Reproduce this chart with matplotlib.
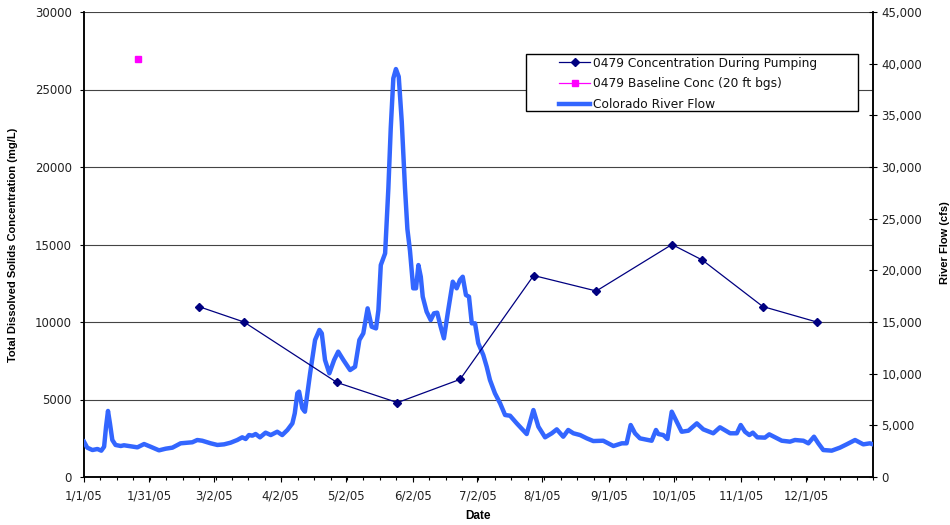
import matplotlib
matplotlib.use("Agg")
import matplotlib.pyplot as plt
import matplotlib.dates as mdates
import matplotlib.ticker as mticker
from matplotlib.patches import Rectangle
import pandas as pd

# TDS concentration in well 0479 during pumping (mg/L)
conc_dates = ["2005-02-23", "2005-03-16", "2005-04-28", "2005-05-26", "2005-06-24",
              "2005-07-28", "2005-08-26", "2005-09-30", "2005-10-14", "2005-11-11",
              "2005-12-06"]
conc_values = [11000, 10000, 6100, 4800, 6300, 13000, 12000, 15000, 14000, 11000, 10000]

# Baseline concentration sample (20 ft bgs)
baseline_dates = ["2005-01-26"]
baseline_values = [27000]

# Colorado River flow (cfs); days counted from 1/1/05
flow_days = [0, 1.5, 3.9, 6.2, 8.0, 9.3, 10.2, 11.1, 12.0, 13.1, 14.6, 17.0, 18.5,
             21.6, 24.7, 27.8, 30.8, 34.7, 37.8, 40.9, 44.7, 47.8, 50.1, 52.4, 54.7,
             58.6, 61.7, 64.8, 67.8, 70.9, 73.2, 74.8, 76.3, 77.9, 79.4, 81.4, 84.0,
             86.4, 89.4, 91.7, 94.1, 96.4, 97.5, 98.7, 99.5, 101.0, 102.2, 104.6,
             106.9, 108.9, 110.0, 111.5, 113.5, 115.7, 117.6, 120.0, 123.1, 125.4,
             127.4, 129.2, 131.2, 133.1, 135.1, 136.2, 137.3, 139.3, 140.8, 141.9,
             143.1, 144.3, 145.6, 147.0, 148.5, 149.6, 150.8, 152.3, 153.6, 154.7,
             155.8, 156.7, 158.5, 160.4, 161.9, 163.4, 165.0, 166.5, 168.5, 170.6,
             172.4, 173.9, 175.2, 176.7, 178.1, 179.4, 180.9, 182.4, 184.7, 186.3,
             187.8, 190.1, 192.5, 194.8, 197.1, 200.2, 204.8, 207.9, 210.2, 213.3,
             216.4, 218.7, 221.7, 224.0, 226.4, 229.5, 232.6, 235.6, 240.2, 244.9,
             248.8, 251.0, 252.9, 254.9, 257.2, 262.6, 264.6, 265.7, 268.0, 269.9,
             271.9, 274.2, 276.5, 279.6, 283.5, 286.5, 291.1, 294.2, 298.9, 302.0,
             303.8, 305.8, 307.8, 309.4, 311.5, 315.0, 317.0, 319.7, 322.8, 326.6,
             328.9, 332.8, 335.1, 337.7, 339.7, 342.0, 345.9, 349.7, 352.8, 356.7,
             360.5, 363.6, 365.0]
flow_cfs = [3420, 2840, 2610, 2710, 2550, 2930, 4870, 6390, 5190, 3580, 3100, 3000, 3070,
            2970, 2870, 3190, 2930, 2580, 2740, 2840, 3260, 3320, 3360, 3580, 3510,
            3260, 3100, 3160, 3320, 3580, 3840, 3680, 4060, 4000, 4160, 3840, 4290,
            4060, 4380, 4060, 4550, 5190, 6160, 8100, 8260, 6650, 6320, 10030,
            13260, 14230, 13900, 11320, 10030, 11320, 12130, 11320, 10350, 10670,
            13260, 13900, 16320, 14540, 14380, 16160, 20510, 21640, 27940, 33740,
            38580, 39480, 38740, 34380, 27940, 24000, 21900, 18260, 18260, 20510,
            19380, 17450, 16000, 15190, 15840, 15900, 14540, 13420, 16160, 18900,
            18260, 19060, 19380, 17610, 17450, 14870, 14870, 12940, 11810, 10670,
            9390, 8100, 7130, 6000, 5930, 5190, 4160, 6480, 4870, 3840,
            4230, 4610, 3900, 4550, 4230, 4060, 3740, 3480, 3510, 3000,
            3260, 3260, 5030, 4230, 3740, 3510, 4550, 4160, 4060, 3680,
            6320, 5350, 4380, 4480, 5190, 4610, 4230, 4810, 4230, 4230,
            5030, 4380, 4060, 4290, 3840, 3810, 4130, 3840, 3510, 3420,
            3580, 3510, 3260, 3900, 3260, 2610, 2550, 2840, 3160, 3580,
            3160, 3260, 3160]

date_ticks = ["2005-01-01", "2005-01-31", "2005-03-02", "2005-04-02", "2005-05-02",
              "2005-06-02", "2005-07-02", "2005-08-01", "2005-09-01", "2005-10-01",
              "2005-11-01", "2005-12-01"]
date_labels = ["1/1/05", "1/31/05", "3/2/05", "4/2/05", "5/2/05", "6/2/05", "7/2/05",
               "8/1/05", "9/1/05", "10/1/05", "11/1/05", "12/1/05"]

conc_ticks = [0, 5000, 10000, 15000, 20000, 25000, 30000]
flow_ticks = [0, 5000, 10000, 15000, 20000, 25000, 30000, 35000, 40000, 45000]

plt.rcParams["font.family"] = ["DejaVu Sans"]
label_font = dict(family=["Liberation Sans", "DejaVu Sans"], weight="bold", size=8)

start = pd.Timestamp("2005-01-01")
end = pd.Timestamp("2006-01-01")
flow_dates = start + pd.to_timedelta(flow_days, unit="D")

fig = plt.figure(figsize=(9.5, 5.25), dpi=100)
ax = fig.add_axes([84 / 950, 48 / 525, 789 / 950, 465 / 525])
ax2 = ax.twinx()   # river flow axis
ax3 = ax.twinx()   # concentration series, drawn above the flow line

ax.set_xlim(start, end)
ax.set_ylim(0, 30000)
ax3.set_ylim(0, 30000)
ax2.set_ylim(0, 45000)

# horizontal gridlines on the concentration scale
ax.set_yticks(conc_ticks)
ax.yaxis.grid(True, color="#444444", linewidth=0.8)
ax.set_axisbelow(True)

ax2.plot(flow_dates, flow_cfs, color="#3366FF", linewidth=3.2,
         solid_joinstyle="round", label="Colorado River Flow", zorder=3)

l1, = ax3.plot(pd.to_datetime(conc_dates), conc_values, color="#000080", linewidth=0.9,
               marker="D", markersize=4.2, label="0479 Concentration During Pumping")
l2, = ax3.plot(pd.to_datetime(baseline_dates), baseline_values, color="#FF00FF",
               linewidth=0.9, marker="s", markersize=4.5, linestyle="-",
               label="0479 Baseline Conc (20 ft bgs)")
l3 = ax2.get_lines()[0]

# x axis: dates
tick_nums = mdates.date2num(pd.to_datetime(date_ticks))
ax.xaxis.set_major_locator(mticker.FixedLocator(tick_nums))
ax.xaxis.set_major_formatter(mticker.FixedFormatter(date_labels))
minor_nums = [mdates.date2num(start) + i * 365 / 48 for i in range(49)]
ax.xaxis.set_minor_locator(mticker.FixedLocator(minor_nums))
ax.tick_params(axis="x", which="major", direction="out", length=3.8, width=0.8,
               labelsize=8.5, pad=5, colors="black", labelcolor="#222222")
ax.tick_params(axis="x", which="minor", direction="out", length=2.4, width=0.8)

ax.tick_params(axis="y", direction="out", length=3.2, width=0.8, labelsize=8.5,
               pad=5.5, labelcolor="#222222")
ax.yaxis.set_major_formatter(mticker.FuncFormatter(lambda v, p: f"{v:.0f}"))

ax2.set_yticks(flow_ticks)
ax2.yaxis.set_major_formatter(mticker.FuncFormatter(lambda v, p: f"{v:,.0f}"))
ax2.tick_params(axis="y", direction="inout", length=6, width=0.8, labelsize=8.5,
                pad=3, labelcolor="#222222")

ax3.set_yticks([])
ax3.axis("off")
ax3.set_xlim(start, end)
ax2.set_xlim(start, end)

for a in (ax, ax2):
    a.spines["top"].set_visible(False)
for a in (ax, ax2):
    for s in ("left", "right", "bottom"):
        a.spines[s].set_linewidth(1.1)
        a.spines[s].set_color("black")

ax.set_ylabel("Total Dissolved Solids Concentration (mg/L)", **label_font)
ax.yaxis.set_label_coords(-0.0837, 0.5)
ax.set_xlabel("Date", **dict(label_font, size=8.5))
ax.xaxis.set_label_coords(0.5, -0.072)
ax2.set_ylabel("River Flow (cfs)", rotation=90, **label_font)
ax2.yaxis.set_label_coords(1.085, 0.505)

# legend box
box = Rectangle((0.560, 0.787), 0.421, 0.123, transform=ax3.transAxes,
                facecolor="white", edgecolor="black", linewidth=1.0, zorder=5,
                clip_on=False)
ax3.add_patch(box)
leg = ax3.legend(handles=[l1, l2, l3], loc="upper left",
                 bbox_to_anchor=(0.602, 0.904), frameon=False, fontsize=8.8,
                 handlelength=2.55, handletextpad=0.25, labelspacing=0.62,
                 borderpad=0.0, borderaxespad=0.0)
leg.set_zorder(6)
for t in leg.get_texts():
    t.set_color("#111111")

fig.savefig("out.png", dpi=100, facecolor="white")
